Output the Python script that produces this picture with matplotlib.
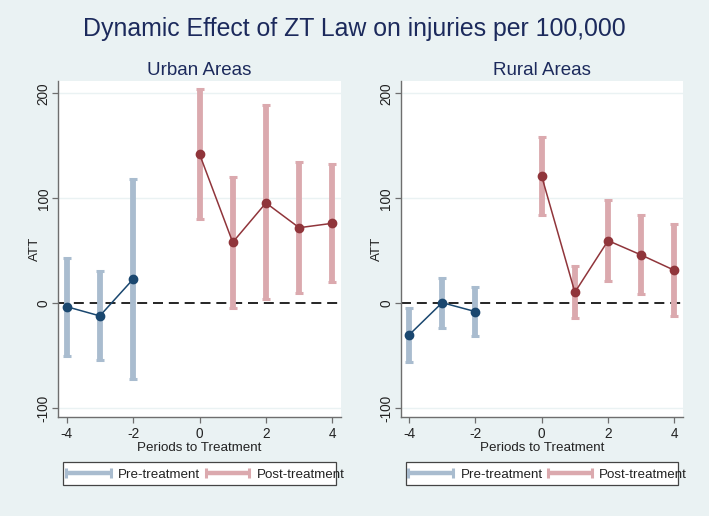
import numpy as np
import matplotlib
matplotlib.use("Agg")
import matplotlib.pyplot as plt
from matplotlib.lines import Line2D
from matplotlib.patches import Rectangle

plt.rcParams['font.family'] = ['Liberation Sans', 'DejaVu Sans']
plt.rcParams['axes.unicode_minus'] = False

# event-study estimates
pre_periods = [-4, -3, -2]
post_periods = [0, 1, 2, 3, 4]

urban_pre_att = [-3.2, -12.0, 22.9]
urban_pre_lo = [-50.2, -54.0, -72.4]
urban_pre_hi = [43.5, 30.8, 118.4]
urban_post_att = [142.2, 58.1, 95.6, 72.0, 76.2]
urban_post_lo = [80.0, -4.1, 3.8, 10.2, 20.0]
urban_post_hi = [204.4, 120.6, 188.6, 134.6, 133.0]

rural_pre_att = [-30.2, 0.6, -7.9]
rural_pre_lo = [-55.6, -23.2, -31.1]
rural_pre_hi = [-4.8, 24.4, 15.9]
rural_post_att = [121.0, 10.5, 59.7, 46.0, 31.4]
rural_post_lo = [83.8, -13.7, 21.3, 8.6, -12.0]
rural_post_hi = [158.7, 35.6, 98.4, 84.4, 75.9]

panel_titles = ["Urban Areas", "Rural Areas"]
legend_labels = ["Pre-treatment", "Post-treatment"]

# colours (stata s2color look)
bg = '#eaf2f3'
navy = '#1a476f'
maroon = '#90353b'
pre_ci = '#a9bccf'
post_ci = '#dba9ae'
ttl = '#1c2a5c'
axc = '#6e6e6e'

W, H = 709, 516
fig = plt.figure(figsize=(W/100, H/100), dpi=100, facecolor=bg)


def draw_ci(ax, x, lo, hi, col):
    x = np.array(x); lo = np.array(lo); hi = np.array(hi)
    mid = (lo + hi) / 2.0
    ax.errorbar(x, mid, yerr=[mid - lo, hi - mid], fmt='none', ecolor=col,
                elinewidth=4.2, capsize=3.2, capthick=2.2, zorder=2)


def panel(ax, title, pre, post):
    pre_att, pre_lo, pre_hi = pre
    post_att, post_lo, post_hi = post
    ax.set_facecolor('white')
    for y in [-100, 100, 200]:
        ax.axhline(y, color=bg, lw=1.0, zorder=0)
    ax.axhline(0, color='black', lw=1.2, ls=(0, (6, 3.5)), zorder=1)

    draw_ci(ax, pre_periods, pre_lo, pre_hi, pre_ci)
    draw_ci(ax, post_periods, post_lo, post_hi, post_ci)
    ax.plot(pre_periods, pre_att, '-o', color=navy, lw=1.1, ms=6, zorder=3)
    ax.plot(post_periods, post_att, '-o', color=maroon, lw=1.1, ms=6, zorder=3)

    ax.set_xlim(-4.25, 4.25)
    ax.set_ylim(-108.0, 212.0)
    ax.set_xticks([-4, -2, 0, 2, 4])
    ax.set_yticks([-100, 0, 100, 200])
    ax.set_yticklabels(['-100', '0', '100', '200'], rotation=90, va='center')
    ax.tick_params(axis='both', length=4.5, width=0.9, color=axc, labelsize=9.8,
                   labelcolor='#222222')
    ax.tick_params(axis='x', pad=3)
    ax.tick_params(axis='y', pad=1)
    for s in ['top', 'right']:
        ax.spines[s].set_visible(False)
    for s in ['left', 'bottom']:
        ax.spines[s].set_color(axc)
        ax.spines[s].set_linewidth(1.0)
    ax.set_title(title, fontsize=13.5, color=ttl, pad=4)
    ax.set_xlabel("Periods to Treatment", fontsize=9.6, labelpad=0.5, color='#222222')
    ax.set_ylabel("ATT", fontsize=9.6, color='#222222')
    ax.yaxis.set_label_coords(-0.063, 0.5)


def legend_box(x0):
    # stata-style legend drawn in pixel coords
    def fx(px):
        return px / W

    def fy(py):
        return 1 - py / H
    fig.add_artist(Rectangle((fx(x0), fy(485)), fx(272.7), 23.3 / H,
                             transform=fig.transFigure, facecolor='white',
                             edgecolor='#444444', lw=0.9))
    yc = fy(473.3)
    for (a, b, tx, lab, col) in [(2.7, 47.4, 55.0, legend_labels[0], pre_ci),
                                 (142.7, 186.0, 193.4, legend_labels[1], post_ci)]:
        fig.add_artist(Line2D([fx(x0 + a), fx(x0 + b)], [yc, yc], transform=fig.transFigure,
                              color=col, lw=3.2, solid_capstyle='butt'))
        fig.add_artist(Line2D([fx(x0 + a), fx(x0 + b)], [yc, yc], transform=fig.transFigure,
                              color=col, lw=0, marker='|', ms=7, mew=2.2))
        fig.text(fx(x0 + tx), fy(474.5), lab, fontsize=9.6, va='center', ha='left',
                 color='#222222')


ax1 = fig.add_axes([58.3 / W, 1 - 416.7 / H, 282.4 / W, 336.0 / H])
ax2 = fig.add_axes([400.7 / W, 1 - 416.7 / H, 282.0 / W, 336.0 / H])
panel(ax1, panel_titles[0], (urban_pre_att, urban_pre_lo, urban_pre_hi),
      (urban_post_att, urban_post_lo, urban_post_hi))
panel(ax2, panel_titles[1], (rural_pre_att, rural_pre_lo, rural_pre_hi),
      (rural_post_att, rural_post_lo, rural_post_hi))

legend_box(63.3)
legend_box(405.7)

fig.text(0.5, 1 - 29 / H, "Dynamic Effect of ZT Law on injuries per 100,000",
         fontsize=17.9, color=ttl, ha='center', va='center')

fig.savefig("out.png", dpi=100, facecolor=bg)
